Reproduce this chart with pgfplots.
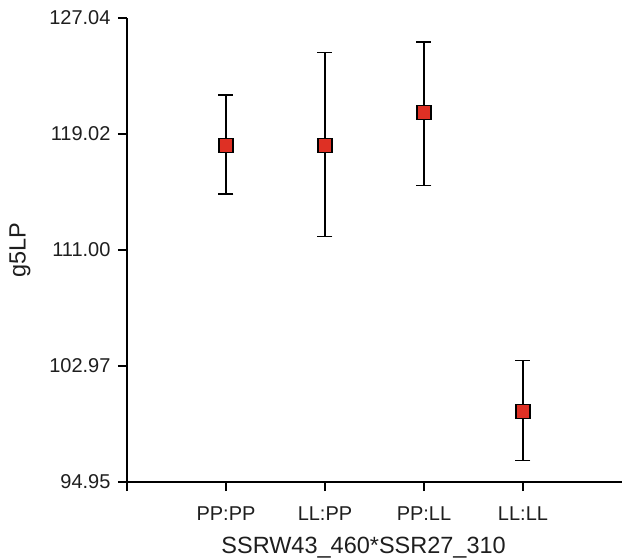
\documentclass[border=0pt]{standalone}
\usepackage{fontspec}
\setmainfont{Liberation Sans}
\usepackage{pgfplots}
\pgfplotsset{compat=1.18}
\definecolor{markred}{RGB}{222,48,36}
\definecolor{txt}{RGB}{30,30,30}

\begin{document}
\begin{tikzpicture}
\useasboundingbox (-127pt,-76pt) rectangle (495pt,482pt);
\begin{axis}[
  at={(0,0)}, anchor=south west,
  scale only axis, width=495pt, height=464pt,
  xmin=0, xmax=5, ymin=94.95, ymax=127.04,
  axis lines=left,
  axis line style={-, line width=1.3pt, black},
  tick style={line width=1.3pt, black},
  tick align=outside, major tick length=9pt,
  xtick={0,1,2,3,4},
  xticklabels={,PP:PP,LL:PP,PP:LL,LL:LL},
  ytick={94.95,102.97,111.00,119.02,127.04},
  yticklabels={94.95,102.97,111.00,119.02,127.04},
  tick label style={font=\fontsize{20}{24}\selectfont, text=txt},
  xticklabel style={yshift=-12pt},
  yticklabel style={xshift=-4pt},
  label style={font=\fontsize{23.5}{28}\selectfont, text=txt},
  xlabel={SSRW43\_460*SSR27\_310},
  ylabel={g5LP},
  xlabel style={at={(axis description cs:0.478,0)}, anchor=base, yshift=-71pt},
  ylabel style={at={(axis description cs:-0.216,0.5)}, anchor=center},
  clip=false,
]
% mean with lower/upper interval
\addplot[draw=none, no markers,
  error bars/.cd, y dir=both, y explicit,
  error bar style={line width=1.3pt, black},
  error mark options={rotate=90, mark size=7.5pt, line width=1.3pt, black}]
  coordinates {
    (1,118.21) += (0,3.50) -= (0,3.34)
    (2,118.21) += (0,6.43) -= (0,6.29)
    (3,120.52) += (0,4.86) -= (0,5.08)
    (4,99.81)  += (0,3.53) -= (0,3.36)
  };
\addplot[only marks, mark=square*, mark size=7pt,
  mark options={fill=markred, draw=black, line width=1.2pt}]
  coordinates {(1,118.21) (2,118.21) (3,120.52) (4,99.81)};
\end{axis}
\end{tikzpicture}
\end{document}
